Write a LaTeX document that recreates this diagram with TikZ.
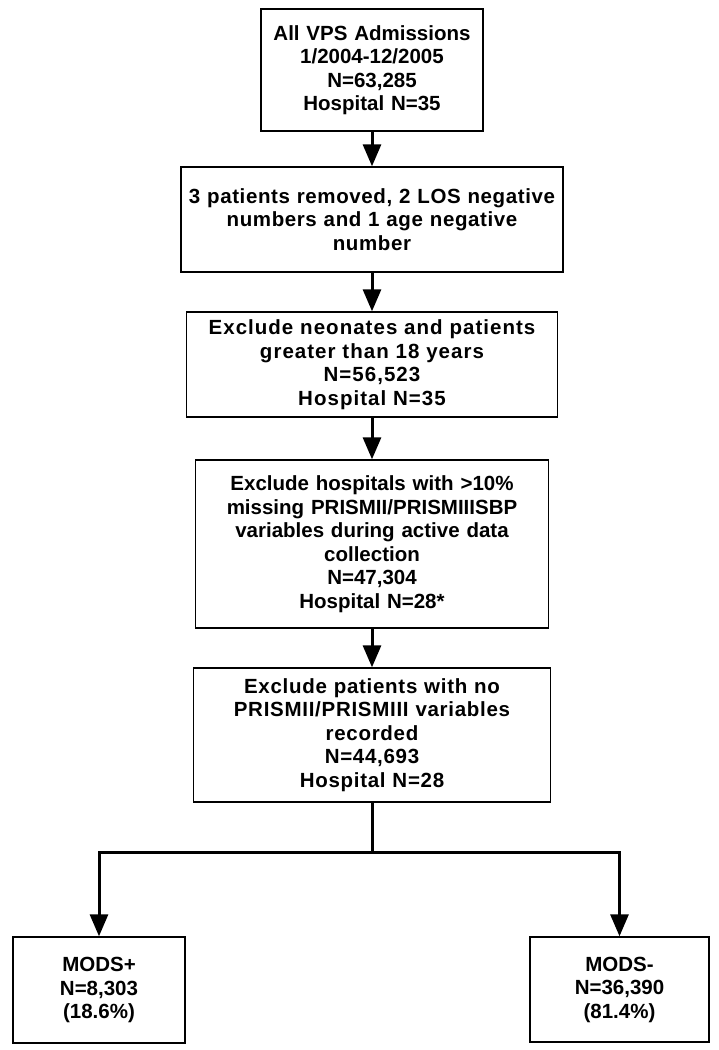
\documentclass[tikz,border=0pt]{standalone}
\usepackage{fontspec}
\setmainfont{Liberation Sans}
\usetikzlibrary{arrows.meta}

\begin{document}
\begin{tikzpicture}[x=1pt, y=-1pt,
    box/.style={draw, line width=1.4pt, align=center, inner xsep=2pt, inner ysep=0pt,
      font=\fontsize{20.5}{23.5}\selectfont\bfseries},
    spaced/.style={font=\fontsize{20.5}{23.5}\selectfont\bfseries\addfontfeature{LetterSpace=#1}},
    flow/.style={line width=3pt, -{Triangle[length=22pt,width=18pt]}}]
          \useasboundingbox (0,0) rectangle (718,1050);
          \node [box, text width=218pt, minimum height=122pt] (B1) at (372,70)
            {All VPS Admissions\\1/2004-12/2005\\N=63,285\\Hospital N=35};
          \node [box, spaced=3, text width=378pt, minimum height=105pt] (B2) at (372,219.5)
            {3 patients removed, 2 LOS negative\\numbers and 1 age negative\\number};
          \node [box, spaced=5, text width=367pt, minimum height=105pt] (B3) at (372,364.5)
            {Exclude neonates and patients\\greater than 18 years\\N=56,523\\Hospital N=35};
          \node [box, text width=349pt, minimum height=168pt] (B4) at (372,544)
            {Exclude hospitals with >10\%\\missing PRISMII/PRISMIIISBP\\variables during active data\\collection\\N=47,304\\Hospital N=28*};
          \node [box, spaced=3.5, text width=353pt, minimum height=134pt] (B5) at (372,735)
            {Exclude patients with no\\PRISMII/PRISMIII variables\\recorded\\N=44,693\\Hospital N=28};
          \node [box, text width=168pt, minimum height=106pt] (M1) at (99,990)
            {MODS+\\N=8,303\\(18.6\%)};
          \node [box, text width=175pt, minimum height=105pt] (M2) at (619.5,989.5)
            {MODS-\\N=36,390\\(81.4\%)};
          \coordinate (J) at (372,852);
          \draw [flow] (B1) -- (B2);
          \draw [flow] (B2) -- (B3);
          \draw [flow] (B3) -- (B4);
          \draw [flow] (B4) -- (B5);
          \draw [line width=3pt] (B5) -- (J);
          \draw [flow] (J) -| (M1);
          \draw [flow] (J) -| (M2);
        \end{tikzpicture}
\end{document}
